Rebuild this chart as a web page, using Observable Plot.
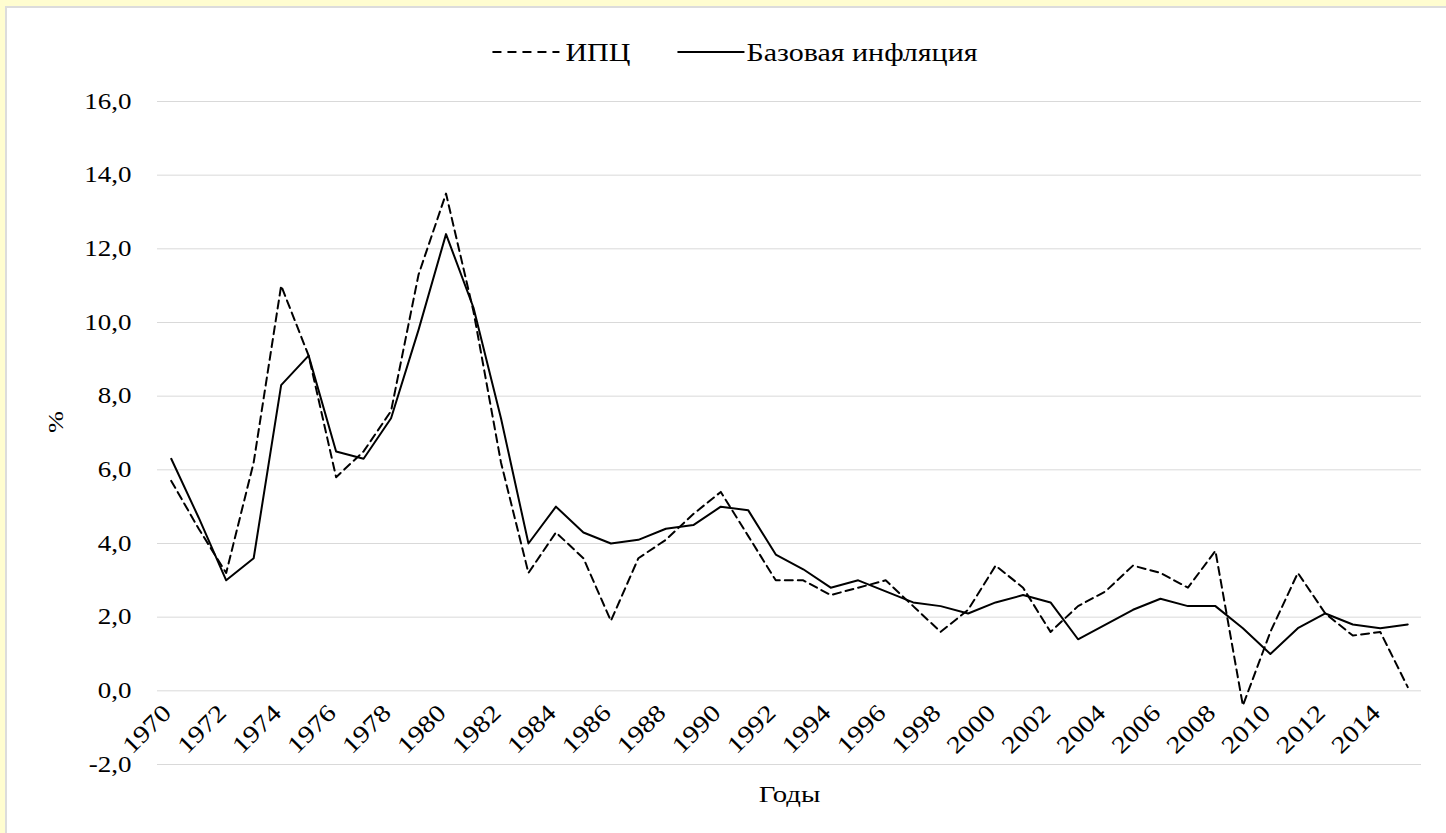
<!DOCTYPE html>
<html>
<head>
<meta charset="utf-8">
<script src="https://cdn.jsdelivr.net/npm/d3@7"></script>
<script src="https://cdn.jsdelivr.net/npm/@observablehq/plot@0.6"></script>
<style>
  html, body { margin: 0; padding: 0; width: 1446px; height: 833px; overflow: hidden; background: #fffdd0; }
  #panel { position: absolute; left: 5px; top: 6px; width: 1441px; height: 827px; background: #fff;
           border-left: 2px solid #dcdcdc; border-top: 2px solid #dcdcdc; box-sizing: border-box; }
  #legend { position: absolute; left: 0; top: 30px; }
  #chart { position: absolute; left: 0; top: 80px; }
</style>
</head>
<body>
<div id="panel"></div>
<div id="legend"></div>
<div id="chart"></div>
<script>
const years = d3.range(1970, 2016);
const seriesNames = ["ИПЦ", "Базовая инфляция"];
const cpi = [5.7, 4.4, 3.2, 6.2, 11.0, 9.1, 5.8, 6.5, 7.6, 11.3, 13.5, 10.3, 6.2, 3.2, 4.3, 3.6, 1.9, 3.6, 4.1, 4.8,
             5.4, 4.2, 3.0, 3.0, 2.6, 2.8, 3.0, 2.3, 1.6, 2.2, 3.4, 2.8, 1.6, 2.3, 2.7, 3.4, 3.2, 2.8, 3.8, -0.4,
             1.6, 3.2, 2.1, 1.5, 1.6, 0.1];
const core = [6.3, 4.7, 3.0, 3.6, 8.3, 9.1, 6.5, 6.3, 7.4, 9.8, 12.4, 10.4, 7.4, 4.0, 5.0, 4.3, 4.0, 4.1, 4.4, 4.5,
              5.0, 4.9, 3.7, 3.3, 2.8, 3.0, 2.7, 2.4, 2.3, 2.1, 2.4, 2.6, 2.4, 1.4, 1.8, 2.2, 2.5, 2.3, 2.3, 1.7,
              1.0, 1.7, 2.1, 1.8, 1.7, 1.8];
const yTicks = [-2, 0, 2, 4, 6, 8, 10, 12, 14, 16];
const xTickLabels = years.filter(y => (y - 1970) % 2 === 0);
const xAxisTitle = "Годы";
const yAxisTitle = "%";
const xAxisCross = 0;

const table = years.map((y, i) => ({year: y, cpi: cpi[i], core: core[i]}));
const fmt = d => d.toFixed(1).replace(".", ",");
const font = "Liberation Serif";
const STRETCH = 1.2; // the reference text is horizontally stretched

function stretchText(root) {
  root.querySelectorAll("text").forEach(t => {
    const L = t.getComputedTextLength();
    if (L > 0) {
      t.setAttribute("textLength", L * STRETCH);
      t.setAttribute("lengthAdjust", "spacingAndGlyphs");
    }
  });
}

// legend (own small svg above the chart)
const lg = d3.select("#legend").append("svg")
  .attr("width", 1446).attr("height", 45)
  .style("font-family", font).style("font-size", "25px");
const ly = 22;
const texts = seriesNames.map(n => lg.append("text").attr("y", ly).attr("dy", "0.35em").text(n));
const widths = texts.map(t => t.node().getComputedTextLength() * STRETCH);
const sampleW = 67, gapText = [6, 2], gapItem = 47;
const total = sampleW + gapText[0] + widths[0] + gapItem + sampleW + gapText[1] + widths[1];
let cx = 735 - total / 2;
[["9,6", 0], [null, 1]].forEach(([dash, i]) => {
  lg.append("line").attr("x1", cx).attr("x2", cx + sampleW).attr("y1", ly).attr("y2", ly)
    .attr("stroke", "#000").attr("stroke-width", 2).attr("stroke-dasharray", dash);
  cx += sampleW + gapText[i];
  texts[i].attr("x", cx);
  cx += widths[i] + gapItem;
});
stretchText(lg.node());

const plot = Plot.plot({
  width: 1446,
  height: 753,
  marginLeft: 157,
  marginRight: 25,
  marginTop: 21,
  marginBottom: 69,
  style: {fontFamily: font, fontSize: "22px", color: "#000", background: "transparent"},
  x: {type: "point", domain: years, padding: 0.5, round: false, axis: null},
  y: {domain: [-2, 16]},
  marks: [
    Plot.gridY(yTicks, {stroke: "#d9d9d9", strokeOpacity: 1, strokeWidth: 1}),
    Plot.axisY(yTicks, {tickSize: 0, tickPadding: 26, tickFormat: fmt, label: null, fontSize: 22.5}),
    Plot.text(xTickLabels, {x: d => d, y: xAxisCross, text: d => String(d), rotate: -45, textAnchor: "end",
                            lineAnchor: "middle", dx: -4, dy: 18, fontSize: 24}),
    Plot.line(table, {x: "year", y: "cpi", stroke: "#000", strokeWidth: 2, strokeDasharray: "8,5"}),
    Plot.line(table, {x: "year", y: "core", stroke: "#000", strokeWidth: 2}),
    Plot.text([yAxisTitle], {frameAnchor: "left", rotate: -90, dx: -102, fontSize: 22}),
    Plot.text([xAxisTitle], {frameAnchor: "bottom", dy: 37, fontSize: 24})
  ]
});
document.getElementById("chart").appendChild(plot);
stretchText(plot);
</script>
</body>
</html>
